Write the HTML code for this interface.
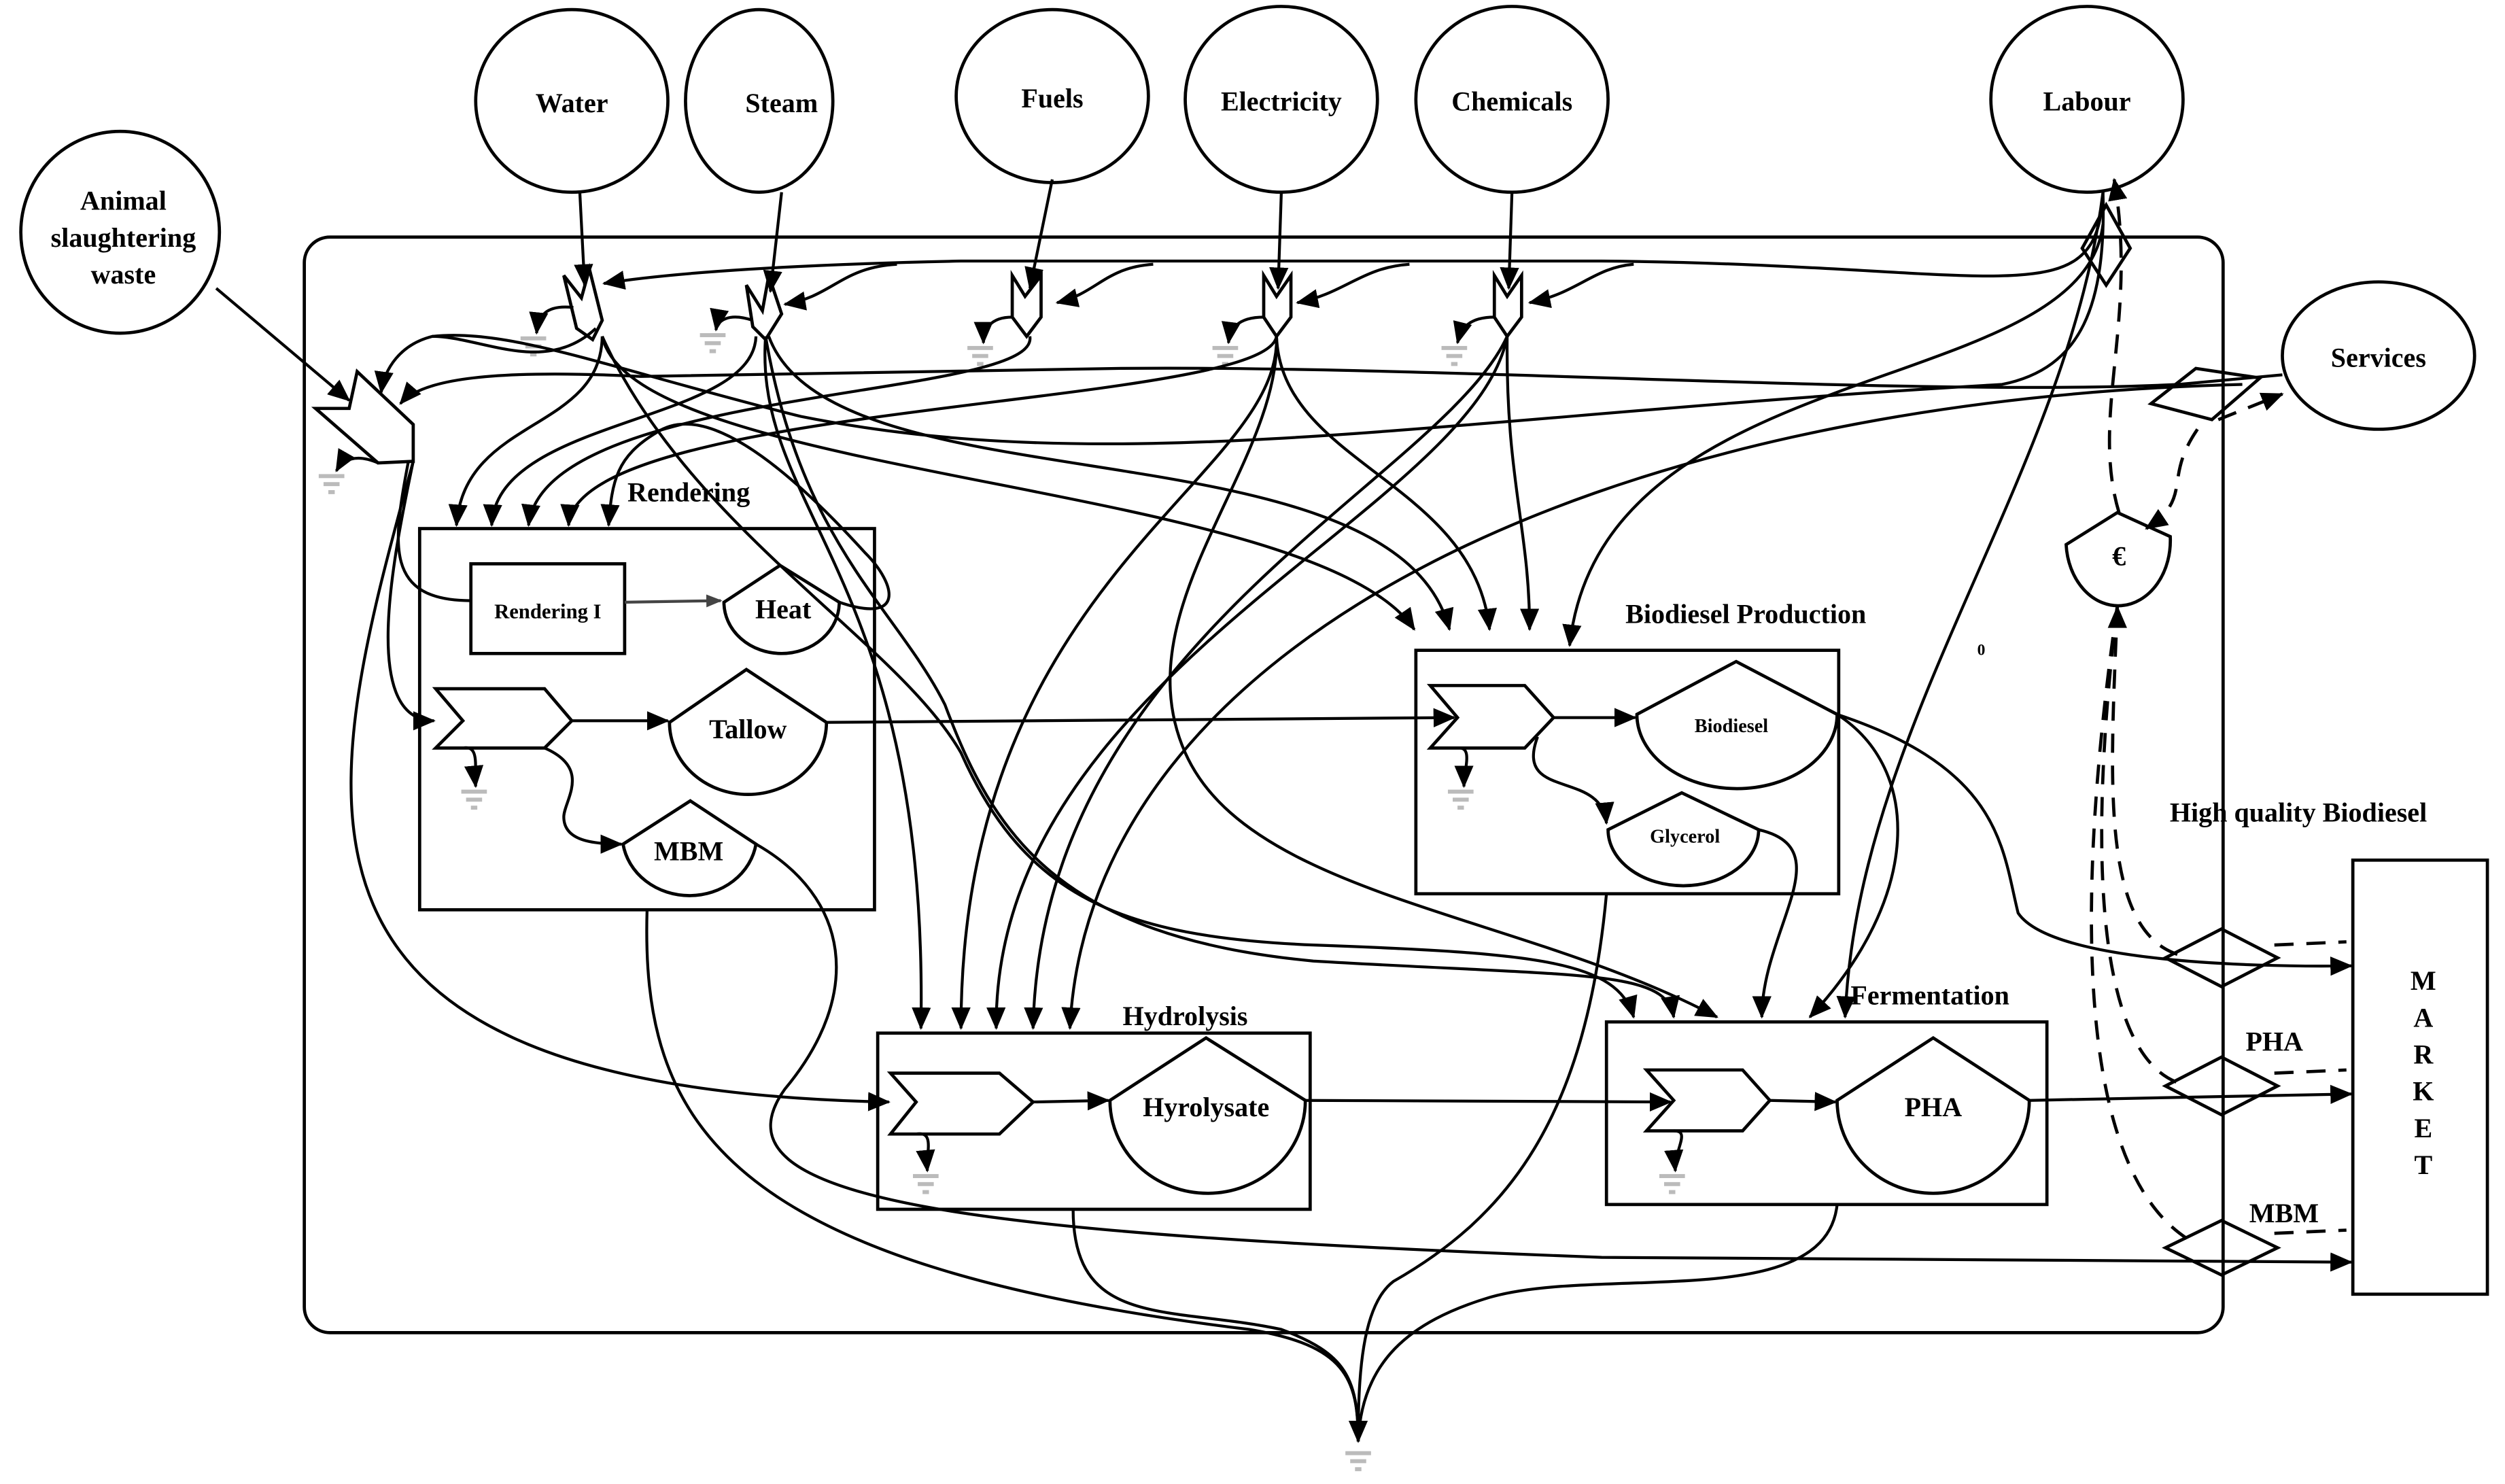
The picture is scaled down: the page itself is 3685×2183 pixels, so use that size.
<!DOCTYPE html>
<html><head><meta charset="utf-8"><style>
html,body{margin:0;padding:0;background:#fff;}
svg{display:block;}
text{font-family:"Liberation Serif",serif;font-weight:bold;fill:#000;}
</style></head><body>
<svg width="3685" height="2183" viewBox="0 0 1564 926.5" preserveAspectRatio="none" xmlns="http://www.w3.org/2000/svg">
<defs>
<marker id="a" markerUnits="userSpaceOnUse" markerWidth="14" markerHeight="12" refX="13" refY="6" orient="auto"><path d="M0,0 L14,6 L0,12 z" fill="#000"/></marker>
<marker id="g" markerUnits="userSpaceOnUse" markerWidth="10" markerHeight="8" refX="9" refY="4" orient="auto"><path d="M0,0 L10,4 L0,8 z" fill="#444"/></marker>
<g id="gnd"><rect x="-8" y="0" width="16" height="2.5" fill="#bbb"/><rect x="-5" y="5" width="10" height="2.5" fill="#bbb"/><rect x="-2" y="10" width="4" height="2.5" fill="#bbb"/></g>
</defs>
<g fill="none" stroke="#000" stroke-width="2">
<rect x="190" y="148" width="1198" height="684" rx="16"/>
<ellipse cx="357" cy="63" rx="60" ry="57"/>
<ellipse cx="474" cy="63" rx="46" ry="57"/>
<ellipse cx="657" cy="60" rx="60" ry="54"/>
<ellipse cx="800" cy="62" rx="60" ry="58"/>
<ellipse cx="944" cy="62" rx="60" ry="58"/>
<ellipse cx="1303" cy="62" rx="60" ry="58"/>
<ellipse cx="75" cy="145" rx="62" ry="63"/>
<ellipse cx="1485" cy="222" rx="60" ry="46"/>
<rect x="1469" y="537" width="84" height="271"/>
<rect x="262" y="330" width="284" height="238"/>
<rect x="884" y="406" width="264" height="152"/>
<rect x="548" y="645" width="270" height="110"/>
<rect x="1003" y="638" width="275" height="114"/>
<rect x="294" y="352" width="96" height="56"/>
<path d="M452,376 L487,353 L524,376 A36,32 0 0 1 452,376 Z"/>
<path d="M418,451 L466,418 L516,451 A49,45 0 0 1 418,451 Z"/>
<path d="M389,527 L431,500 L472,527 A42,38 0 0 1 389,527 Z"/>
<path d="M1022,446 L1084,413 L1147,446 A62,46 0 0 1 1022,446 Z"/>
<path d="M1004,518 L1050,495 L1098,518 A47,35 0 0 1 1004,518 Z"/>
<path d="M693,687 L753,648 L815,687 A61,58 0 0 1 693,687 Z"/>
<path d="M1147,687 L1207,648 L1267,687 A60,58 0 0 1 1147,687 Z"/>
<path d="M1290,340 L1322,320 L1355,335 A32,40 0 0 1 1290,340 Z"/>
<path d="M272,430 L340,430 L357,450 L340,467 L272,467 L289,450 Z"/>
<path d="M893,428 L952,428 L970,448 L952,467 L893,467 L910,448 Z"/>
<path d="M556,670 L624,670 L645,688 L624,708 L556,708 L572,688 Z"/>
<path d="M1028,668 L1088,668 L1105,687 L1088,706 L1028,706 L1045,687 Z"/>
<path d="M197,255 L218,255 L223,232 L258,265 L258,288 L236,289 Z"/>
<path d="M352,172 L363,186 L368,168 L376,200 L370,212 L360,205 Z"/>
<path d="M466,178 L476,194 L480,172 L488,196 L478,212 L470,204 Z"/>
<path d="M632,172 L640,185 L650,172 L650,198 L641,210 L632,198 Z"/>
<path d="M789,172 L797,185 L806,172 L806,198 L797,210 L789,198 Z"/>
<path d="M933,172 L941,185 L950,172 L950,198 L941,210 L933,198 Z"/>
<path d="M1352,598 L1387,580 L1422,598 L1387,616 Z"/>
<path d="M1352,678 L1387,660 L1422,678 L1387,696 Z"/>
<path d="M1352,779 L1387,762 L1422,779 L1387,796 Z"/>
<path d="M1300,155 L1315,128 L1330,155 L1315,178 Z"/>
<path d="M1343,252 L1371,230 L1411,236 L1381,262 Z"/>
</g>
<use href="#gnd" x="333" y="210"/><use href="#gnd" x="445" y="208"/><use href="#gnd" x="612" y="216"/>
<use href="#gnd" x="765" y="216"/><use href="#gnd" x="908" y="216"/><use href="#gnd" x="207" y="296"/>
<use href="#gnd" x="296" y="493"/><use href="#gnd" x="912" y="493"/><use href="#gnd" x="578" y="733"/>
<use href="#gnd" x="1044" y="733"/><use href="#gnd" x="848" y="906"/>
<g fill="none" stroke="#000" stroke-width="1.8">
<path d="M362,120 L365,178" marker-end="url(#a)"/>
<path d="M488,120 L481,182" marker-end="url(#a)"/>
<path d="M657,112 L643,180" marker-end="url(#a)"/>
<path d="M800,120 L798,180" marker-end="url(#a)"/>
<path d="M944,120 L942,180" marker-end="url(#a)"/>
<path d="M135,180 L218,250" marker-end="url(#a)"/>
<path d="M1313,120 C1310,200 1250,165 1000,163 L600,163 C500,165 420,170 377,177" marker-end="url(#a)"/>
<path d="M560,165 C525,167 520,185 490,190" marker-end="url(#a)"/>
<path d="M720,165 C690,167 685,183 660,189" marker-end="url(#a)"/>
<path d="M880,165 C850,167 840,183 810,189" marker-end="url(#a)"/>
<path d="M1020,165 C995,167 985,183 955,189" marker-end="url(#a)"/>
<path d="M358,192 C340,190 336,198 335,208" marker-end="url(#a)"/>
<path d="M470,200 C455,195 448,200 447,206" marker-end="url(#a)"/>
<path d="M632,198 C618,198 614,206 614,214" marker-end="url(#a)"/>
<path d="M789,198 C772,198 768,206 767,214" marker-end="url(#a)"/>
<path d="M933,198 C916,198 912,206 910,214" marker-end="url(#a)"/>
<path d="M236,289 C222,283 214,287 210,294" marker-end="url(#a)"/>
<path d="M289,467 C300,465 296,480 297,491" marker-end="url(#a)"/>
<path d="M910,467 C920,466 914,480 914,491" marker-end="url(#a)"/>
<path d="M572,708 C584,706 578,720 579,731" marker-end="url(#a)"/>
<path d="M1045,706 C1056,706 1045,718 1046,731" marker-end="url(#a)"/>
<path d="M1425,234 L1360,240 C1200,248 900,228 700,230 L400,235 C300,230 262,238 250,252" marker-end="url(#a)"/>
<path d="M372,205 C340,235 300,210 270,210 C250,215 240,230 238,245" marker-end="url(#a)"/>
<path d="M270,210 C320,205 380,230 500,260 C700,300 900,260 1250,240 C1300,230 1315,190 1313,120"/>
<path d="M376,210 C375,270 290,260 285,328" marker-end="url(#a)"/>
<path d="M472,210 C470,265 310,260 307,328" marker-end="url(#a)"/>
<path d="M643,210 C650,250 340,240 330,328" marker-end="url(#a)"/>
<path d="M797,210 C790,255 360,250 355,328" marker-end="url(#a)"/>
<path d="M524,376 C565,390 560,365 540,345 C490,290 440,250 410,270 C385,285 382,300 380,328" marker-end="url(#a)"/>
<path d="M376,210 C395,300 820,300 883,393" marker-end="url(#a)"/>
<path d="M480,210 C520,320 870,260 905,393" marker-end="url(#a)"/>
<path d="M797,210 C800,290 920,300 930,393" marker-end="url(#a)"/>
<path d="M941,210 C940,300 955,330 955,393" marker-end="url(#a)"/>
<path d="M1313,140 C1300,250 1000,220 980,403" marker-end="url(#a)"/>
<path d="M478,210 C470,320 580,360 575,642" marker-end="url(#a)"/>
<path d="M797,210 C800,300 600,360 600,642" marker-end="url(#a)"/>
<path d="M941,210 C920,320 620,420 622,642" marker-end="url(#a)"/>
<path d="M941,210 C900,300 650,400 645,642" marker-end="url(#a)"/>
<path d="M1400,240 C1000,250 680,400 668,642" marker-end="url(#a)"/>
<path d="M376,210 C430,330 560,400 600,470 C640,560 700,585 820,590 C960,595 1010,600 1020,635" marker-end="url(#a)"/>
<path d="M478,210 C500,340 560,380 590,440 C620,520 660,585 820,600 C990,610 1040,605 1045,635" marker-end="url(#a)"/>
<path d="M797,210 C800,290 700,380 740,470 C780,560 950,570 1072,635" marker-end="url(#a)"/>
<path d="M1098,518 C1150,530 1100,580 1100,635" marker-end="url(#a)"/>
<path d="M1147,446 C1200,480 1200,560 1130,635" marker-end="url(#a)"/>
<path d="M1313,120 C1290,300 1160,450 1152,635" marker-end="url(#a)"/>
<path d="M258,288 C245,350 225,450 271,450" marker-end="url(#a)"/>
<path d="M255,288 C245,340 240,375 294,375"/>
<path d="M258,288 C200,500 150,680 555,688" marker-end="url(#a)"/>
<path d="M390,376 L450,375" stroke="#444" marker-end="url(#g)"/>
<path d="M357,450 L417,450" marker-end="url(#a)"/>
<path d="M340,467 C370,480 352,500 352,510 C352,525 370,527 388,527" marker-end="url(#a)"/>
<path d="M516,451 L908,448" marker-end="url(#a)"/>
<path d="M970,448 L1021,448" marker-end="url(#a)"/>
<path d="M960,460 C945,500 1000,480 1003,514" marker-end="url(#a)"/>
<path d="M645,688 L692,687" marker-end="url(#a)"/>
<path d="M815,687 L1043,688" marker-end="url(#a)"/>
<path d="M1105,687 L1146,688" marker-end="url(#a)"/>
<path d="M1147,446 C1250,480 1250,530 1260,570 C1280,600 1400,604 1468,603" marker-end="url(#a)"/>
<path d="M1267,687 L1468,683" marker-end="url(#a)"/>
<path d="M472,527 C530,560 540,620 490,680 C440,750 600,770 1000,785 L1468,788" marker-end="url(#a)"/>
<path d="M404,568 C400,700 450,790 780,830 C840,840 848,860 848,900" marker-end="url(#a)"/>
<path d="M670,755 C670,830 730,815 800,830 C840,845 848,860 848,900"/>
<path d="M1003,558 C990,700 940,760 870,800 C850,815 848,860 848,900"/>
<path d="M1147,752 C1140,820 1000,790 930,810 C880,825 850,850 848,900"/>
</g>
<g fill="none" stroke="#000" stroke-width="2" stroke-dasharray="12,8">
<path d="M1322,378 C1318,480 1310,580 1360,596"/>
<path d="M1322,378 C1300,560 1316,660 1360,676"/>
<path d="M1322,378 C1290,600 1305,740 1370,776"/>
<path d="M1420,590 L1465,588"/><path d="M1420,670 L1465,668"/><path d="M1420,770 L1465,768"/>
<path d="M1323,320 C1305,260 1335,200 1320,112" marker-end="url(#a)"/>
<path d="M1385,262 L1425,246" marker-end="url(#a)"/>
<path d="M1372,268 C1350,300 1370,310 1340,330" marker-end="url(#a)"/>
</g>
<path d="M1322,378 L1316,392 L1328,392 Z" fill="#000"/>
<g font-size="17" text-anchor="middle">
<text x="357" y="70">Water</text>
<text x="488" y="70">Steam</text>
<text x="657" y="67">Fuels</text>
<text x="800" y="69">Electricity</text>
<text x="944" y="69">Chemicals</text>
<text x="1303" y="69">Labour</text>
<text x="1485" y="229">Services</text>
<text x="77" y="131">Animal</text>
<text x="77" y="154">slaughtering</text>
<text x="77" y="177">waste</text>
<text x="430" y="313">Rendering</text>
<text x="1090" y="389">Biodiesel Production</text>
<text x="740" y="640">Hydrolysis</text>
<text x="1205" y="627">Fermentation</text>
<text x="1435" y="513">High quality Biodiesel</text>
<text x="1420" y="656">PHA</text>
<text x="1426" y="763">MBM</text>
<text x="342" y="386" font-size="13">Rendering I</text>
<text x="489" y="386">Heat</text>
<text x="467" y="461">Tallow</text>
<text x="430" y="537">MBM</text>
<text x="1081" y="457" font-size="12">Biodiesel</text>
<text x="1052" y="526" font-size="12">Glycerol</text>
<text x="753" y="697">Hyrolysate</text>
<text x="1207" y="697">PHA</text>
<text x="1323" y="353">€</text>
<text x="1237" y="409" font-size="10">0</text>
</g>
<g font-size="17" text-anchor="middle">
<text x="1513" y="618">M</text><text x="1513" y="641">A</text><text x="1513" y="664">R</text>
<text x="1513" y="687">K</text><text x="1513" y="710">E</text><text x="1513" y="733">T</text>
</g>
</svg>
</body></html>
